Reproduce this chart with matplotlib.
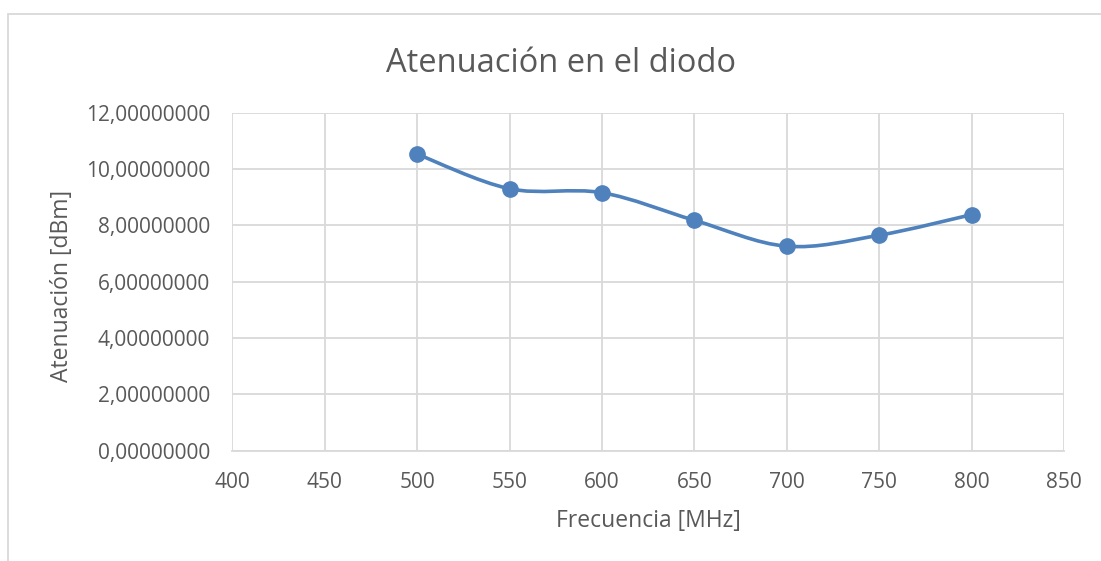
import matplotlib.pyplot as plt
from matplotlib.path import Path
from matplotlib.patches import PathPatch, Rectangle
from matplotlib.ticker import FuncFormatter

# datos
frecuencia = [500, 550, 600, 650, 700, 750, 800]
atenuacion = [10.53, 9.30, 9.16, 8.18, 7.26, 7.65, 8.38]

AZUL = '#4F81BD'
GRIS_TEXTO = '#595959'
GRIS_REJILLA = '#D9D9D9'

plt.rcParams['font.family'] = ['Open Sans', 'DejaVu Sans']

W, H = 1101, 561


def curva_suave(xs, ys):
    """Camino de Bezier tipo 'linea suavizada' de Excel."""
    pts = list(zip(xs, ys))
    n = len(pts)
    verts = [pts[0]]
    codes = [Path.MOVETO]
    for i in range(n - 1):
        p0 = pts[i - 1] if i > 0 else pts[i]
        p1 = pts[i]
        p2 = pts[i + 1]
        p3 = pts[i + 2] if i + 2 < n else pts[i + 1]
        c1 = (p1[0] + (p2[0] - p0[0]) / 6, p1[1] + (p2[1] - p0[1]) / 6)
        c2 = (p2[0] - (p3[0] - p1[0]) / 6, p2[1] - (p3[1] - p1[1]) / 6)
        verts += [c1, c2, p2]
        codes += [Path.CURVE4] * 3
    return Path(verts, codes)


fig = plt.figure(figsize=(W / 100, H / 100), dpi=100)
ax = fig.add_axes([232.3 / W, 1 - 450.7 / H, (1064 - 232.3) / W, (450.7 - 112.7) / H])

# borde del area del grafico
fig.patches.append(Rectangle((8 / W, -0.05), 1.2, 1 - 14 / H + 0.05,
                             transform=fig.transFigure, fill=False,
                             edgecolor=GRIS_REJILLA, lw=1.3))

ax.add_patch(PathPatch(curva_suave(frecuencia, atenuacion), fill=False,
                       edgecolor=AZUL, lw=2.6, zorder=3))
ax.plot(frecuencia, atenuacion, 'o', color=AZUL, ms=11, zorder=4)

ax.set_xlim(400, 850)
ax.set_ylim(0, 12)
ax.set_xticks(range(400, 851, 50))
ax.set_yticks(range(0, 13, 2))
ax.yaxis.set_major_formatter(FuncFormatter(lambda v, p: f'{v:.8f}'.replace('.', ',')))

ax.grid(True, color=GRIS_REJILLA, lw=1.3)
ax.set_axisbelow(True)
for lado in ['top', 'right', 'left']:
    ax.spines[lado].set_visible(False)
ax.spines['bottom'].set_color(GRIS_REJILLA)
ax.spines['bottom'].set_linewidth(1.3)
ax.tick_params(length=0, labelsize=15, colors=GRIS_TEXTO)
ax.tick_params(axis='x', pad=15)
ax.tick_params(axis='y', pad=16)

fig.text(561 / W, 1 - 72 / H, 'Atenuación en el diodo', fontsize=23.5,
         color=GRIS_TEXTO, ha='center', va='baseline')
fig.text(648 / W, 1 - 527 / H, 'Frecuencia [MHz]', fontsize=16.5,
         color=GRIS_TEXTO, ha='center', va='baseline')
fig.text(62 / W, 1 - 286 / H, 'Atenuación [dBm]', fontsize=16.5,
         color=GRIS_TEXTO, ha='center', va='center', rotation=90)

fig.savefig('out.png', dpi=100)
